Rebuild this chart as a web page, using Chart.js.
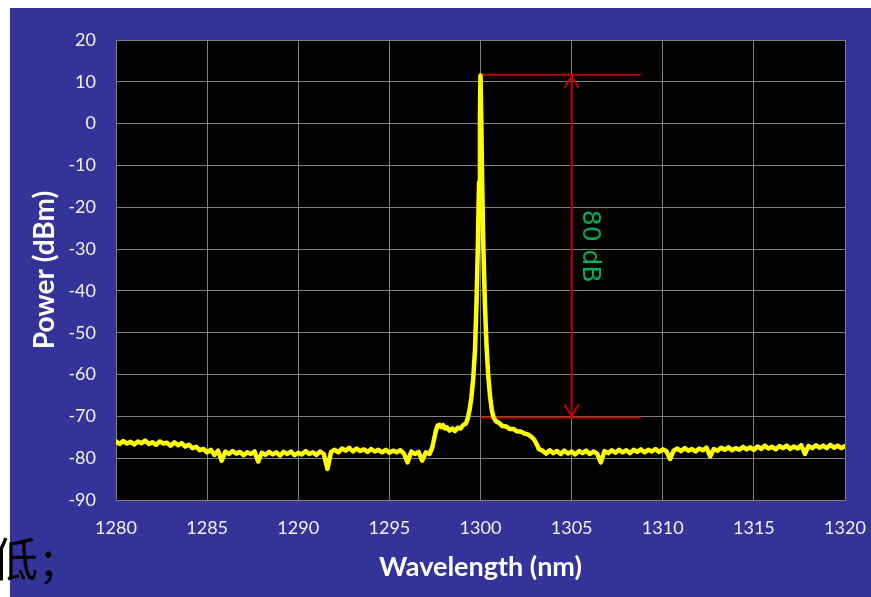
<!DOCTYPE html>
<html>
<head>
<meta charset="utf-8">
<script src="https://cdn.jsdelivr.net/npm/chart.js@4.4.1/dist/chart.umd.min.js"></script>
<style>
  html, body { margin: 0; padding: 0; background: #fff; width: 871px; height: 597px; overflow: hidden; }
  #panel { position: absolute; left: 10px; top: 8px; width: 861px; height: 589px; background: #333399; }
  #chart { position: absolute; left: 0; top: 0; }
  #note { position: absolute; left: -8px; top: 533px; font-family: "Noto Sans CJK SC"; font-size: 46px; line-height: 1; letter-spacing: 4px; color: #000; }
</style>
</head>
<body>
<div id="panel"></div>
<canvas id="chart" width="871" height="597"></canvas>
<div id="note">低;</div>
<script>
// tick labels
const wavelengthTicks = [1280, 1285, 1290, 1295, 1300, 1305, 1310, 1315, 1320];
const powerTicks = [-90, -80, -70, -60, -50, -40, -30, -20, -10, 0, 10, 20];

// noise floor left of the line, one reading every 0.2 nm from 1280.0
const floorStep = 0.2;
const leftFloorStart = 1280.0;
const leftFloorPower = [
  -76.0, -76.6, -75.9, -76.5, -76.1, -76.7, -76.0, -76.4, -75.8, -76.6,
  -76.2, -76.8, -76.0, -76.5, -76.3, -77.0, -76.2, -76.9, -76.4, -77.2,
  -76.8, -77.6, -77.3, -78.1, -77.8, -78.6, -78.0, -79.2, -78.2, -80.6,
  -78.4, -79.0, -78.3, -78.9, -78.5, -79.3, -78.6, -79.0, -78.4, -80.8,
  -78.7, -79.2, -78.5, -79.1, -78.6, -79.4, -78.5, -79.0, -78.4, -79.3,
  -78.7, -79.1, -78.3, -79.0, -78.6, -79.2, -78.4, -79.0, -82.6, -78.5,
  -78.0, -78.6, -77.7, -78.2, -77.5, -78.4, -77.7, -78.3, -77.9, -78.5,
  -77.8, -78.4, -78.0, -78.6, -78.0, -78.7, -78.2, -78.6, -78.1, -78.9,
  -81.0, -78.4, -79.0, -78.5, -80.6, -78.6, -79.0
];

// shoulders and the 1300 nm line
const peakWavelength = [
  1297.35, 1297.45, 1297.55, 1297.65, 1297.75, 1297.85, 1297.95, 1298.05, 1298.15, 1298.3,
  1298.45, 1298.6, 1298.75, 1298.9, 1299.05, 1299.2, 1299.3, 1299.4, 1299.5, 1299.6,
  1299.7, 1299.78, 1299.85, 1299.92, 1299.97, 1300.0, 1300.04, 1300.09, 1300.16, 1300.24,
  1300.33, 1300.42, 1300.52, 1300.62, 1300.72, 1300.85, 1301.0, 1301.2, 1301.4, 1301.6,
  1301.8, 1302.0, 1302.2, 1302.4, 1302.6, 1302.8, 1302.95, 1303.1, 1303.2
];
const peakPower = [
  -77.5, -75.5, -73.5, -72.2, -72.0, -72.6, -72.1, -72.9, -72.6, -73.4,
  -72.9, -73.5, -72.7, -72.9, -72.1, -71.7, -70.5, -68.5, -65.5, -61.0,
  -54.0, -43.0, -30.0, -14.0, 2.0, 11.5, 2.0, -14.0, -30.0, -43.0,
  -53.0, -60.0, -65.0, -68.5, -70.3, -71.2, -71.5, -72.3, -72.4, -73.0,
  -73.0, -73.6, -73.6, -74.1, -74.3, -74.9, -75.6, -76.8, -77.8
];

// noise floor right of the line, every 0.2 nm from 1303.4
const rightFloorStart = 1303.4;
const rightFloorPower = [
  -78.2, -78.9, -78.1, -78.8, -78.3, -79.0, -78.2, -78.9, -78.4, -79.1,
  -78.3, -78.8, -78.2, -79.0, -78.4, -78.9, -81.0, -78.3, -78.8, -78.1,
  -78.7, -78.0, -78.6, -78.1, -78.8, -78.0, -78.5, -77.9, -78.6, -78.0,
  -78.4, -77.8, -78.5, -77.9, -78.3, -80.2, -78.2, -77.7, -78.3, -77.6,
  -78.2, -77.8, -78.4, -77.7, -78.1, -77.5, -79.6, -77.8, -78.2, -77.5,
  -78.0, -77.4, -78.1, -77.6, -78.0, -77.3, -77.9, -77.4, -78.0, -77.2,
  -77.8, -77.0, -77.7, -77.3, -77.9, -77.1, -77.6, -77.0, -77.8, -77.2,
  -77.7, -76.9, -79.0, -77.1, -77.6, -76.9, -77.5, -77.0, -77.6, -76.8,
  -77.5, -77.0, -77.6, -77.1
];

// 80 dB marker
const spanTop = 11.7;
const spanBottom = -70.3;
const spanFrom = 1300;
const spanTo = 1308.8;
const arrowAt = 1305;
const spanLabel = '80 dB';

const points = [];
leftFloorPower.forEach((p, i) => points.push({ x: +(leftFloorStart + i * floorStep).toFixed(2), y: p }));
peakWavelength.forEach((w, i) => points.push({ x: w, y: peakPower[i] }));
rightFloorPower.forEach((p, i) => points.push({ x: +(rightFloorStart + i * floorStep).toFixed(2), y: p }));

const blackArea = {
  id: 'blackArea',
  beforeDraw(chart) {
    const { ctx, chartArea: a } = chart;
    ctx.save();
    ctx.fillStyle = '#000';
    ctx.fillRect(a.left, a.top, a.right - a.left, a.bottom - a.top);
    ctx.restore();
  }
};

const spanMarker = {
  id: 'spanMarker',
  beforeDatasetsDraw(chart) {
    const { ctx, scales: { x, y } } = chart;
    const x0 = x.getPixelForValue(spanFrom);
    const x1 = x.getPixelForValue(spanTo);
    const xa = x.getPixelForValue(arrowAt);
    const yt = y.getPixelForValue(spanTop);
    const yb = y.getPixelForValue(spanBottom);
    ctx.save();
    ctx.strokeStyle = '#c00000';
    ctx.lineWidth = 2;
    ctx.beginPath();
    ctx.moveTo(x0, yt); ctx.lineTo(x1, yt);
    ctx.moveTo(x0, yb); ctx.lineTo(x1, yb);
    ctx.moveTo(xa, yt); ctx.lineTo(xa, yb);
    ctx.moveTo(xa - 7, yt + 13); ctx.lineTo(xa, yt + 1); ctx.lineTo(xa + 7, yt + 13);
    ctx.moveTo(xa - 7, yb - 13); ctx.lineTo(xa, yb - 1); ctx.lineTo(xa + 7, yb - 13);
    ctx.stroke();
    ctx.translate(xa + 18, (yt + yb) / 2);
    ctx.rotate(Math.PI / 2);
    ctx.fillStyle = '#00b050';
    ctx.font = '25px "DejaVu Sans"';
    ctx.textAlign = 'center';
    ctx.textBaseline = 'middle';
    ctx.fillText(spanLabel, 0, 0);
    ctx.restore();
  }
};

new Chart(document.getElementById('chart'), {
  type: 'line',
  data: {
    datasets: [{
      data: points,
      borderColor: '#ffff00',
      borderWidth: 4.5,
      borderJoinStyle: 'round',
      borderCapStyle: 'round',
      pointRadius: 0,
      tension: 0,
      fill: false
    }]
  },
  options: {
    responsive: false,
    animation: false,
    layout: { padding: { left: 10, top: 40, right: 26, bottom: 0 } },
    plugins: { legend: { display: false }, tooltip: { enabled: false } },
    scales: {
      x: {
        type: 'linear',
        min: 1280,
        max: 1320,
        afterBuildTicks: s => { s.ticks = wavelengthTicks.map(v => ({ value: v })); },
        afterFit: s => { s.height = 97; s.paddingLeft = 0; s.paddingRight = 0; },
        grid: { color: '#808080', lineWidth: 1, drawTicks: false },
        border: { color: '#808080', width: 1 },
        ticks: { color: '#f2f2f2', padding: 17, font: { family: 'Lato', size: 18 }, callback: v => String(v) },
        title: {
          display: true,
          text: 'Wavelength (nm)',
          color: '#ffffff',
          font: { family: 'Lato', size: 27, weight: 'bold' },
          padding: { top: 0, bottom: 14 }
        }
      },
      y: {
        min: -90,
        max: 20,
        afterBuildTicks: s => { s.ticks = powerTicks.map(v => ({ value: v })); },
        afterFit: s => { s.width = 106; s.paddingTop = 0; s.paddingBottom = 0; },
        grid: { color: '#808080', lineWidth: 1, drawTicks: false },
        border: { color: '#808080', width: 1 },
        ticks: { color: '#f2f2f2', padding: 20, font: { family: 'Lato', size: 18 }, callback: v => String(v) },
        title: {
          display: true,
          text: 'Power (dBm)',
          color: '#ffffff',
          font: { family: 'Lato', size: 28, weight: 'bold' },
          padding: { top: 18, bottom: 0 }
        }
      }
    }
  },
  plugins: [blackArea, spanMarker]
});
</script>
</body>
</html>
